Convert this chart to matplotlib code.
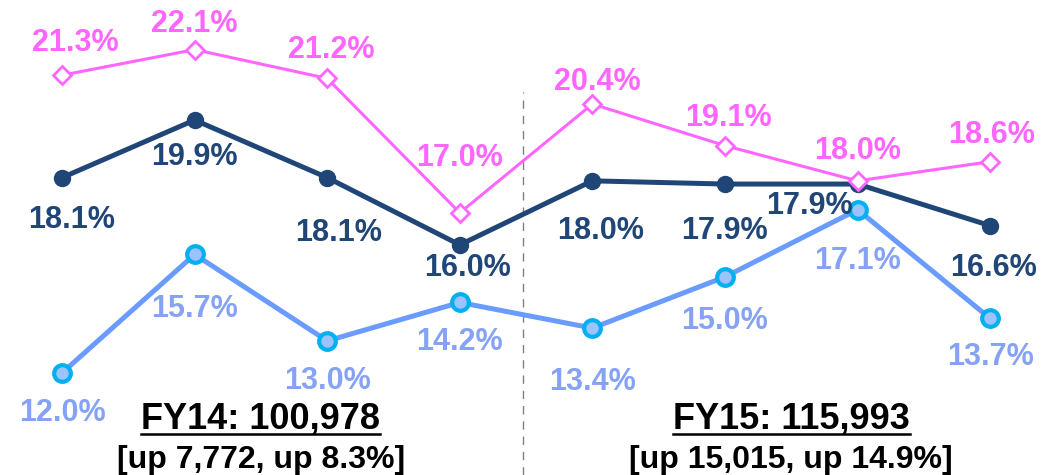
import matplotlib
matplotlib.use("Agg")
import matplotlib.pyplot as plt
from matplotlib.lines import Line2D

# quarterly ratios (%)
quarters = list(range(8))
pink_vals = [21.3, 22.1, 21.2, 17.0, 20.4, 19.1, 18.0, 18.6]
navy_vals = [18.1, 19.9, 18.1, 16.0, 18.0, 17.9, 17.9, 16.6]
blue_vals = [12.0, 15.7, 13.0, 14.2, 13.4, 15.0, 17.1, 13.7]

fy_titles = ["FY14: 100,978", "FY15: 115,993"]
fy_subs = ["[up 7,772, up 8.3%]", "[up 15,015, up 14.9%]"]

# label offsets in pixels (dx, dy), dy up positive
pink_off = [(13, 32), (0, 26), (4, 28), (0, 55), (5, 22), (3, 28), (0, 30), (1, 27)]
navy_off = [(10, -42), (0, -37), (11, -55), (8, -23), (8, -50), (-1, -47), (-48, -22), (3, -42)]
blue_off = [(0, -40), (0, -55), (0, -40), (0, -40), (0, -54), (0, -44), (0, -51), (0, -39)]

PINK = "#FF66FF"
NAVY = "#1F4677"
BLUE_LINE = "#6A9BFF"
BLUE_EDGE = "#00B0F0"
BLUE_FACE = "#9CC3FF"
BLUE_TEXT = "#86A2F5"

plt.rcParams["font.family"] = ["Liberation Sans", "DejaVu Sans"]

fig = plt.figure(figsize=(10.44, 4.75), dpi=100)
ax = fig.add_axes([0, 0, 1, 1])
ax.set_xlim(-0.468, 7.406)
ax.set_ylim(8.81, 23.65)
ax.axis("off")

# divider between fiscal years
ax.plot([3.474, 3.474], [8.81, 20.77], color="#808080", lw=1, ls=(0, (6, 5)))

ax.plot(quarters, blue_vals, color=BLUE_LINE, lw=3.6, marker="o", ms=12,
        mfc=BLUE_FACE, mec=BLUE_EDGE, mew=3, zorder=3)
ax.plot(quarters, navy_vals, color=NAVY, lw=3.6, marker="o", ms=11.5,
        mfc=NAVY, mec=NAVY, zorder=4)
ax.plot(quarters, pink_vals, color=PINK, lw=2.2, marker="D", ms=9,
        mfc="white", mec=PINK, mew=2, zorder=5)

def label(vals, offs, color):
    for i, (v, (dx, dy)) in enumerate(zip(vals, offs)):
        ax.annotate(f"{v:.1f}%", (i, v), xytext=(dx * 0.72, dy * 0.72),
                    textcoords="offset points", ha="center", va="center",
                    fontsize=22, fontweight="bold", color=color, zorder=6)

label(pink_vals, pink_off, PINK)
label(navy_vals, navy_off, NAVY)
label(blue_vals, blue_off, BLUE_TEXT)

# fiscal-year summaries
titles = []
for xc, t, s in zip([1.5, 5.5], fy_titles, fy_subs):
    tt = ax.text(xc, 1 - 429 / 475, t, transform=ax.get_xaxis_transform(),
                 ha="center", va="baseline", fontsize=26, fontweight="bold",
                 color="black")
    ax.text(xc, 1 - 460 / 475, s, transform=ax.get_xaxis_transform(),
            ha="center", va="center", fontsize=23, fontweight="bold",
            color="black")
    titles.append(tt)

fig.canvas.draw()
renderer = fig.canvas.get_renderer()
for tt in titles:
    bb = tt.get_window_extent(renderer)
    x0, x1 = bb.x0 / fig.bbox.width, bb.x1 / fig.bbox.width
    yl = 1 - 434 / 475
    fig.add_artist(Line2D([x0, x1], [yl, yl], color="black", lw=1.8,
                          transform=fig.transFigure))

fig.savefig("out.png", dpi=100)
